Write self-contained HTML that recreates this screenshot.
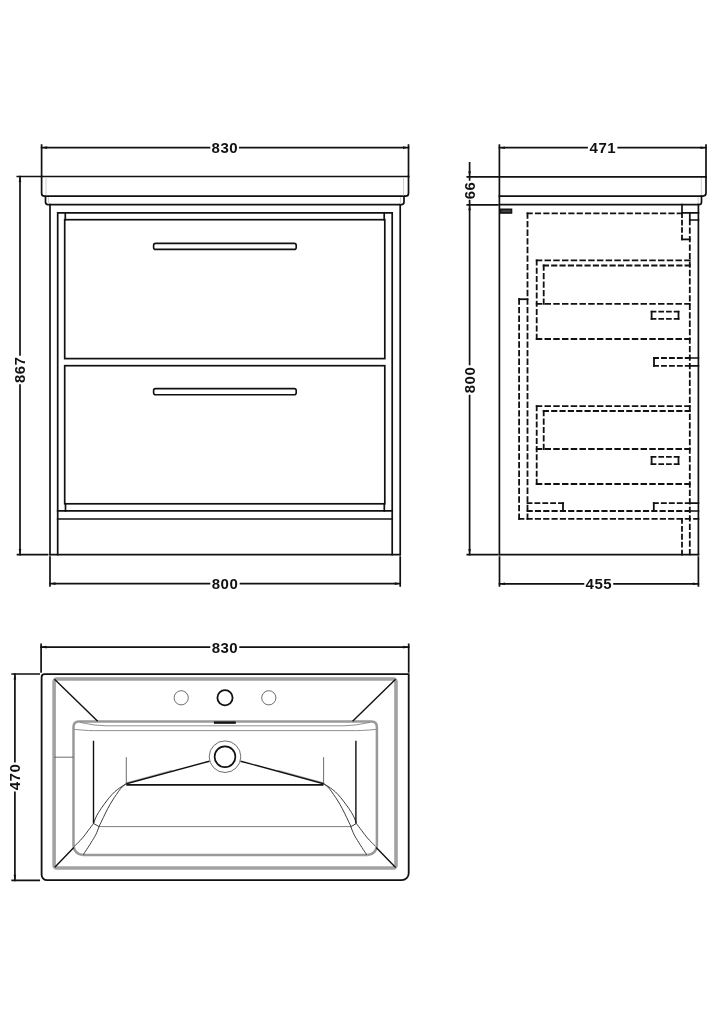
<!DOCTYPE html>
<html><head><meta charset="utf-8"><title>Vanity unit drawing</title>
<style>
html,body{margin:0;padding:0;background:#fff;width:724px;height:1024px;overflow:hidden}
svg{display:block}
text{font-family:"Liberation Sans",sans-serif;font-weight:bold;font-size:15px;letter-spacing:0.45px;fill:#111}
svg{will-change:transform}
</style></head>
<body>
<svg width="724" height="1024" viewBox="0 0 724 1024">
<rect x="0" y="0" width="724" height="1024" fill="#fff"/>

<!-- ============ FRONT VIEW ============ -->
<g fill="none" stroke="#111" stroke-width="1.7" stroke-linecap="square">
  <!-- 830 dim -->
  <path d="M41.6 145V176.5M408.5 145V176.5"/>
  <path d="M41.6 147.6H209.45M239.85 147.6H408.5"/>
  <!-- basin -->
  <path d="M17.3 176.5H408.5"/>
  <path d="M41.6 176.5V193.2Q41.6 196.2 44.6 196.2H405.5Q408.5 196.2 408.5 193.2V176.5" stroke-width="1.7"/>
  <path d="M45.5 196.2V202Q45.5 204.6 48 204.6H401.5Q404 204.6 404 202V196.2" stroke-width="1.7"/>
  <!-- carcass -->
  <path d="M50 204.6V554.6M400.2 204.6V554.6"/>
  <path d="M17.5 554.6H47.6M50 554.6H400.2"/>
  <path d="M57.7 554.6V212.8H392.2V554.6"/>
  <!-- drawers -->
  <rect x="64.7" y="219.7" width="320.1" height="138.9"/>
  <path d="M65.3 212.8V219.7M384.2 212.8V219.7"/>
  <rect x="64.7" y="365.7" width="320.1" height="138.1"/>
  <path d="M65.5 503.8V510.8M384.3 503.8V510.8"/>
  <path d="M57.7 510.8H392.2M57.7 519H392.2"/>
  <!-- handles -->
  <rect x="153.6" y="243.4" width="142.6" height="6" rx="2" stroke-width="1.6"/>
  <rect x="153.6" y="388.6" width="142.6" height="6.1" rx="2" stroke-width="1.6"/>
  <!-- 867 dim -->
  <path d="M20 176.5V354.85M20 385.05V554.6"/>
  <!-- 800 dim -->
  <path d="M50 557V586M400.2 557V586"/>
  <path d="M50 583.6H209.45M240.5 583.6H400.2"/>
</g>
<g stroke="#d0d0d0" stroke-width="1" fill="none">
  <path d="M46 177.5V195.5M403.5 177.5V195.5M48.5 197V204M400.5 197V204M701.3 177.5V195.5M698.2 197V204"/>
</g>
<g fill="#111">
  <path d="M41.6 147.6l5.5 -1.3v2.6z"/>
  <path d="M408.5 147.6l-5.5 -1.3v2.6z"/>
  <path d="M20 176.5l-1.3 5.5h2.6z"/>
  <path d="M20 554.6l-1.3 -5.5h2.6z"/>
  <path d="M50 583.6l5.5 -1.3v2.6z"/>
  <path d="M400.2 583.6l-5.5 -1.3v2.6z"/>
</g>
<text x="224.8" y="153" text-anchor="middle">830</text>
<text x="225" y="588.6" text-anchor="middle">800</text>
<text transform="translate(24.8 369.9) rotate(-90)" text-anchor="middle">867</text>

<!-- ============ SIDE VIEW ============ -->
<g fill="none" stroke="#111" stroke-width="1.7" stroke-linecap="square">
  <path d="M499.4 145V554.6M706 145V176.8"/>
  <path d="M499.4 147.7H587.05M618.25 147.7H706"/>
  <path d="M467.3 176.8H706"/>
  <path d="M706 176.8V193.1Q706 196.1 703 196.1H499.4" stroke-width="1.7"/>
  <path d="M701.5 196.1V202Q701.5 204.7 699 204.7H499.4" stroke-width="1.7"/>
  <path d="M467.3 204.8H497.6"/>
  <path d="M698.4 204.7V554.6"/>
  <path d="M467.3 554.7H497.3M499.4 554.6H698.4"/>
  <path d="M499.5 557V586M698.4 557V586"/>
  <path d="M499.5 583.8H583.45M614.05 583.8H698.4"/>
  <!-- 66 / 800 dim -->
  <path d="M469.6 162.9V176.8M469.6 176.8V180M469.6 200.6V204.8M469.6 204.8V364.5M469.6 395.5V554.6"/>
  <!-- small solid boxes -->
  <path d="M682 204.7V212.8H698.4M689.8 212.8V220H698.4"/>
  <path d="M689.8 358H698.4M689.8 365.8H698.4"/>
  <path d="M689.8 503.2H698.4M689.8 511H698.4"/>
</g>
<rect x="499.6" y="208.5" width="12.7" height="5.3" fill="#151515"/>
<rect x="501.3" y="210.2" width="9.4" height="1.9" fill="#444"/>
<g fill="#111">
  <path d="M499.4 147.7l5.5 -1.3v2.6z"/>
  <path d="M706 147.7l-5.5 -1.3v2.6z"/>
  <path d="M469.6 176.8l-1.3 -5.5h2.6z"/>
  <path d="M469.6 204.8l-1.3 5.5h2.6z"/>
  <path d="M469.6 554.6l-1.3 -5.5h2.6z"/>
  <path d="M499.5 583.8l5.5 -1.3v2.6z"/>
  <path d="M698.4 583.8l-5.5 -1.3v2.6z"/>
</g>
<text x="602.8" y="153.2" text-anchor="middle">471</text>
<text x="598.8" y="588.9" text-anchor="middle">455</text>
<text transform="translate(475 380) rotate(-90)" text-anchor="middle">800</text>
<text transform="translate(475.3 190.5) rotate(-90)" text-anchor="middle">66</text>

<!-- dashed hidden lines -->
<g fill="none" stroke="#111" stroke-width="1.8">
<line x1="526.6" y1="213.3" x2="682.9" y2="213.3" stroke-dasharray="6.18 2.16"/>
<line x1="527.5" y1="212.4" x2="527.5" y2="519.8" stroke-dasharray="6.37 2.23"/>
<line x1="682" y1="212.4" x2="682" y2="240.3" stroke-dasharray="5.53 1.93"/>
<line x1="681.1" y1="239.4" x2="690.7" y2="239.4"/>
<line x1="689.8" y1="219.1" x2="689.8" y2="555.5" stroke-dasharray="6.27 2.19"/>
<line x1="518.2" y1="299.2" x2="528.4" y2="299.2"/>
<line x1="519.1" y1="298.3" x2="519.1" y2="519.8" stroke-dasharray="6.38 2.23"/>
<line x1="518.2" y1="518.9" x2="699.3" y2="518.9" stroke-dasharray="6.17 2.16"/>
<line x1="526.6" y1="511" x2="690.7" y2="511" stroke-dasharray="6.16 2.15"/>
<line x1="535.8" y1="260.3" x2="690.7" y2="260.3" stroke-dasharray="6.47 2.26"/>
<line x1="536.7" y1="259.4" x2="536.7" y2="339.9" stroke-dasharray="6.12 2.14"/>
<line x1="535.8" y1="339" x2="690.7" y2="339" stroke-dasharray="6.47 2.26"/>
<line x1="542.8" y1="265.5" x2="690.7" y2="265.5" stroke-dasharray="6.18 2.16"/>
<line x1="543.7" y1="264.6" x2="543.7" y2="304.7" stroke-dasharray="6.27 2.19"/>
<line x1="535.8" y1="303.8" x2="690.7" y2="303.8" stroke-dasharray="6.47 2.26"/>
<line x1="650.7" y1="311.7" x2="679.4" y2="311.7" stroke-dasharray="5.69 1.99"/>
<line x1="678.5" y1="310.8" x2="678.5" y2="319.8"/>
<line x1="650.7" y1="318.9" x2="679.4" y2="318.9" stroke-dasharray="5.69 1.99"/>
<line x1="651.6" y1="310.8" x2="651.6" y2="319.8"/>
<line x1="535.8" y1="406.1" x2="690.7" y2="406.1" stroke-dasharray="6.47 2.26"/>
<line x1="536.7" y1="405.2" x2="536.7" y2="484.9" stroke-dasharray="6.06 2.12"/>
<line x1="535.8" y1="484" x2="690.7" y2="484" stroke-dasharray="6.47 2.26"/>
<line x1="542.8" y1="411" x2="690.7" y2="411" stroke-dasharray="6.18 2.16"/>
<line x1="543.7" y1="410.1" x2="543.7" y2="449.9" stroke-dasharray="6.22 2.17"/>
<line x1="535.8" y1="449" x2="690.7" y2="449" stroke-dasharray="6.47 2.26"/>
<line x1="650.7" y1="456.9" x2="679.4" y2="456.9" stroke-dasharray="5.69 1.99"/>
<line x1="678.5" y1="456" x2="678.5" y2="465"/>
<line x1="650.7" y1="464.1" x2="679.4" y2="464.1" stroke-dasharray="5.69 1.99"/>
<line x1="651.6" y1="456" x2="651.6" y2="465"/>
<line x1="653.1" y1="358" x2="690.7" y2="358" stroke-dasharray="5.88 2.05"/>
<line x1="654" y1="357.1" x2="654" y2="366.7"/>
<line x1="653.1" y1="365.8" x2="690.7" y2="365.8" stroke-dasharray="5.88 2.05"/>
<line x1="526.6" y1="503.2" x2="563.9" y2="503.2" stroke-dasharray="5.83 2.04"/>
<line x1="563" y1="502.3" x2="563" y2="511.9"/>
<line x1="652.9" y1="503.2" x2="690.7" y2="503.2" stroke-dasharray="5.91 2.06"/>
<line x1="653.8" y1="502.3" x2="653.8" y2="511.9"/>
<line x1="682" y1="518" x2="682" y2="555.5" stroke-dasharray="5.86 2.05"/>

</g>

<!-- ============ PLAN VIEW ============ -->
<g fill="none" stroke="#111" stroke-width="1.7" stroke-linecap="square">
  <path d="M41.1 644.4V672M408.7 644.4V672"/>
  <path d="M41.1 647.1H209.45M240.15 647.1H408.7"/>
  <path d="M12.2 674H39.2M12.2 880.3H39.2"/>
  <path d="M14.9 674V761.75M14.9 792.45V880.3"/>
  <path d="M44.6 674.2H408.7V873.2A7 7 0 0 1 401.7 880.2H47.1A5.5 5.5 0 0 1 41.6 874.7V677.2A3 3 0 0 1 44.6 674.2Z" stroke-width="1.8"/>
</g>
<g fill="#111">
  <path d="M41.1 647.1l5.5 -1.3v2.6z"/>
  <path d="M408.7 647.1l-5.5 -1.3v2.6z"/>
  <path d="M14.9 674l-1.3 5.5h2.6z"/>
  <path d="M14.9 880.3l-1.3 -5.5h2.6z"/>
</g>
<text x="224.9" y="652.8" text-anchor="middle">830</text>
<text transform="translate(20.2 777) rotate(-90)" text-anchor="middle">470</text>

<!-- basin plan details -->
<rect x="54.1" y="679" width="341.9" height="189" rx="2.5" fill="none" stroke="#a2a2a2" stroke-width="3.6"/>
<g fill="none" stroke="#999" stroke-width="2.5">
  <path d="M73.5 846V727Q73.5 721.4 79 721.4H371.4Q376.9 721.4 376.9 727V846"/>
  <path d="M82.7 855.1H367.7"/>
  <path d="M73.5 846Q74.5 854 82.7 855.1M376.9 846Q375.9 854 367.7 855.1"/>
</g>
<g fill="none" stroke="#333" stroke-width="0.95">
  <path d="M80 722.4Q95 725.8 106 725.8H344Q355 725.8 370 722.4" stroke="#8a8a8a"/>
  <path d="M73.5 729.3Q90 731 100 730.6H350Q360 731 376.9 729.3" stroke="#8a8a8a"/>
  <path d="M54 757.2H73.5" stroke="#666"/>
  <path d="M126.3 757.2V783.8M323.6 757.2V783.8" stroke="#666"/>
  <path d="M98.7 826.6H351.3" stroke="#777"/>
  <!-- ribbons -->
  <path d="M125.9 783.9C124.5 784.8 119.9 787.6 117.6 789.4C115.3 791.1 113.9 792.5 112.1 794.4C110.3 796.3 108.4 798.6 106.6 801.0C104.8 803.4 102.7 806.2 101.0 808.7C99.3 811.2 97.8 813.5 96.6 815.9C95.4 818.3 94.1 822.0 93.6 823.2"/>
  <path d="M125.9 783.9C125.1 784.6 122.5 786.5 120.9 788.3C119.3 790.0 118.0 792.3 116.5 794.4C115.0 796.5 113.6 798.6 112.1 801.0C110.6 803.4 109.2 805.9 107.7 808.7C106.2 811.5 104.7 814.7 103.3 817.6C101.9 820.5 99.8 824.9 99.1 826.4"/>
  <path d="M324.1 783.9C325.5 784.8 330.1 787.6 332.4 789.4C334.7 791.1 336.1 792.5 337.9 794.4C339.7 796.3 341.5 798.6 343.4 801.0C345.2 803.4 347.3 806.2 349.0 808.7C350.7 811.2 352.2 813.5 353.4 815.9C354.6 818.3 355.9 822.0 356.4 823.2"/>
  <path d="M324.1 783.9C324.9 784.6 327.5 786.5 329.1 788.3C330.7 790.0 332.0 792.3 333.5 794.4C335.0 796.5 336.4 798.6 337.9 801.0C339.4 803.4 340.8 805.9 342.3 808.7C343.8 811.5 345.3 814.7 346.7 817.6C348.1 820.5 350.2 824.9 350.9 826.4"/>
  <path d="M93.5 823.5C92.6 824.7 89.9 828.3 88.1 830.7C86.3 833.1 84.2 836.0 82.6 837.9C81.0 839.8 79.9 840.8 78.5 842.2C77.1 843.6 75.0 845.7 74.3 846.4"/>
  <path d="M99.1 826.6C98.5 827.9 97.2 831.9 95.8 834.6C94.4 837.3 93.0 839.5 90.9 842.9C88.8 846.3 84.4 852.9 83.1 854.9"/>
  <path d="M356.4 823.5C357.3 824.7 360.0 828.3 361.8 830.7C363.6 833.1 365.7 836.0 367.3 837.9C368.9 839.8 370.0 840.8 371.4 842.2C372.8 843.6 374.9 845.7 375.6 846.4"/>
  <path d="M350.8 826.6C351.3 827.9 352.7 831.9 354.1 834.6C355.5 837.3 356.9 839.5 359.0 842.9C361.1 846.3 365.5 852.9 366.8 854.9"/>
  <path d="M93.5 823.5L99.1 826.6M356.4 823.5L350.8 826.6"/>
  <path d="M127 782.6L172 770.2M323 782.6L278 770.2" stroke="#999" stroke-width="0.7"/>
  <circle cx="181.2" cy="697.8" r="7.1" stroke="#666"/>
  <circle cx="268.8" cy="697.8" r="7.1" stroke="#666"/>
  <circle cx="225" cy="756.7" r="15.8" stroke="#666"/>
</g>
<g fill="none" stroke="#111" stroke-width="1.4">
  <path d="M54.5 679.3L97.7 721.3M395.6 679.3L352.6 721.3"/>
  <path d="M54.8 867.3L73.8 847.5M395.6 867.6L376.2 847.5"/>
  <path d="M93.5 740.7V823.6M355.9 740.7V823.6"/>
  <path d="M126.3 784.9H323.6" stroke-width="1.8"/>
  <path d="M126.3 783.8L209.4 761.2M323.7 783.8L240.6 761.2"/>
  <circle cx="225" cy="697.8" r="7.6" stroke-width="1.8"/>
  <circle cx="225" cy="756.7" r="10.4" stroke-width="1.7"/>
  <path d="M213.9 722.6H235.8" stroke-width="2.4"/>
</g>
</svg>
</body></html>
